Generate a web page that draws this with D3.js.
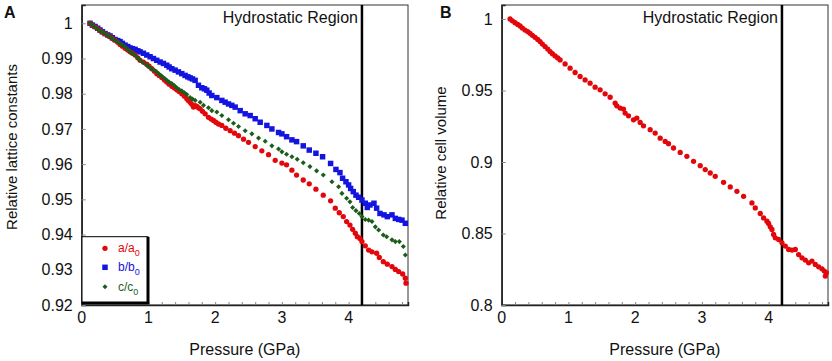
<!DOCTYPE html>
<html>
<head>
<meta charset="utf-8">
<script src="https://cdn.jsdelivr.net/npm/d3@7"></script>
<style>
  body { margin: 0; background: #fff; }
  svg { display: block; font-family: "Liberation Sans", Arial, sans-serif; }
</style>
</head>
<body>
<div id="wrapper"></div>
<script>
// [pressure GPa, ratio]
const aRatio = [[0.125,1.0],[0.16,0.9995],[0.2,0.999],[0.24,0.9985],[0.275,0.9979],[0.31,0.9975],[0.35,0.997],[0.39,0.9966],[0.425,0.9962],[0.46,0.9957],[0.5,0.9952],[0.54,0.9946],[0.575,0.994],[0.61,0.9935],[0.65,0.9929],[0.69,0.9924],[0.725,0.9919],[0.76,0.9915],[0.8,0.991],[0.84,0.9902],[0.875,0.9895],[0.925,0.989],[0.975,0.9884],[1.01,0.9878],[1.05,0.9871],[1.09,0.9864],[1.125,0.9857],[1.16,0.9852],[1.2,0.9846],[1.24,0.9839],[1.275,0.9833],[1.31,0.9827],[1.35,0.9821],[1.39,0.9816],[1.425,0.9811],[1.46,0.9806],[1.5,0.98],[1.54,0.9793],[1.575,0.9786],[1.6,0.9781],[1.625,0.9776],[1.65,0.977],[1.675,0.9762],[1.7,0.9766],[1.725,0.9764],[1.75,0.976],[1.775,0.9757],[1.81,0.975],[1.85,0.9743],[1.9,0.9733],[1.94,0.9728],[1.975,0.9724],[2.01,0.9719],[2.05,0.9714],[2.1,0.971],[2.16,0.9702],[2.225,0.9695],[2.29,0.9688],[2.35,0.9681],[2.425,0.9671],[2.5,0.9662],[2.6,0.965],[2.7,0.9638],[2.8,0.9627],[2.9,0.9611],[3.0,0.9603],[3.07,0.9598],[3.15,0.9583],[3.22,0.9569],[3.32,0.9555],[3.41,0.9544],[3.51,0.9529],[3.62,0.9512],[3.73,0.9496],[3.8,0.9475],[3.86,0.9462],[3.92,0.9451],[3.97,0.9437],[4.02,0.9427],[4.06,0.9415],[4.1,0.9404],[4.13,0.9394],[4.17,0.9389],[4.2,0.938],[4.25,0.9368],[4.3,0.9356],[4.35,0.9351],[4.42,0.9347],[4.46,0.9335],[4.52,0.9323],[4.58,0.9316],[4.65,0.9309],[4.7,0.9301],[4.75,0.9295],[4.81,0.9288],[4.85,0.9276],[4.86,0.9262]];

const bRatio = [[0.125,1.0],[0.16,0.9995],[0.2,0.9991],[0.24,0.9986],[0.275,0.9981],[0.31,0.9976],[0.35,0.9971],[0.39,0.9967],[0.425,0.9964],[0.46,0.9959],[0.5,0.9954],[0.54,0.9951],[0.575,0.9948],[0.61,0.9943],[0.65,0.9938],[0.69,0.9934],[0.725,0.993],[0.76,0.9928],[0.8,0.9926],[0.84,0.9922],[0.875,0.9919],[0.925,0.9915],[0.975,0.991],[1.025,0.9905],[1.075,0.99],[1.125,0.9895],[1.175,0.989],[1.225,0.9886],[1.275,0.9881],[1.31,0.9876],[1.35,0.9871],[1.4,0.9867],[1.45,0.9862],[1.5,0.9857],[1.55,0.9852],[1.59,0.9848],[1.625,0.9845],[1.66,0.9842],[1.7,0.9838],[1.75,0.9824],[1.8,0.9817],[1.84,0.9814],[1.875,0.981],[1.91,0.9802],[1.95,0.9795],[2.025,0.9789],[2.1,0.9781],[2.15,0.9776],[2.2,0.9771],[2.25,0.9767],[2.3,0.9762],[2.375,0.9752],[2.45,0.9743],[2.525,0.9738],[2.6,0.9729],[2.675,0.9719],[2.775,0.971],[2.85,0.97],[2.95,0.969],[3.0,0.9686],[3.07,0.9678],[3.15,0.9669],[3.22,0.9664],[3.32,0.9652],[3.41,0.964],[3.51,0.9631],[3.61,0.9621],[3.73,0.9602],[3.81,0.9585],[3.87,0.9576],[3.91,0.956],[3.96,0.955],[4.0,0.9541],[4.03,0.9531],[4.07,0.9522],[4.11,0.9512],[4.15,0.9506],[4.2,0.9498],[4.25,0.9489],[4.28,0.9477],[4.32,0.9484],[4.38,0.9489],[4.42,0.9475],[4.47,0.946],[4.53,0.9456],[4.58,0.9451],[4.65,0.9456],[4.7,0.9446],[4.75,0.9443],[4.8,0.9441],[4.85,0.9432]];

const cRatio = [[0.125,1.0],[0.16,0.9995],[0.2,0.999],[0.24,0.9984],[0.275,0.9979],[0.31,0.9975],[0.35,0.9971],[0.39,0.9966],[0.425,0.9962],[0.46,0.9957],[0.5,0.9952],[0.54,0.9947],[0.575,0.9943],[0.61,0.9938],[0.65,0.9933],[0.69,0.9926],[0.725,0.9919],[0.76,0.9915],[0.8,0.991],[0.84,0.9902],[0.875,0.9895],[0.925,0.9888],[0.975,0.9881],[1.01,0.9876],[1.05,0.9871],[1.09,0.9866],[1.125,0.9862],[1.16,0.9856],[1.2,0.985],[1.24,0.9844],[1.275,0.9838],[1.31,0.9833],[1.35,0.9829],[1.39,0.9823],[1.425,0.9817],[1.46,0.9812],[1.5,0.9808],[1.54,0.9803],[1.575,0.9798],[1.625,0.9789],[1.66,0.9785],[1.7,0.9781],[1.775,0.9776],[1.825,0.9767],[1.9,0.976],[1.95,0.9752],[2.025,0.9748],[2.1,0.9738],[2.2,0.9726],[2.275,0.9716],[2.35,0.9707],[2.45,0.9695],[2.55,0.9686],[2.65,0.9674],[2.75,0.9665],[2.85,0.9652],[2.95,0.9643],[3.0,0.9635],[3.07,0.9628],[3.15,0.9621],[3.23,0.9614],[3.32,0.9604],[3.42,0.9593],[3.52,0.9581],[3.62,0.9569],[3.75,0.955],[3.85,0.9536],[3.9,0.9517],[3.97,0.9503],[4.02,0.9493],[4.06,0.9477],[4.11,0.9468],[4.16,0.946],[4.2,0.9451],[4.25,0.9443],[4.3,0.9441],[4.35,0.9437],[4.4,0.9422],[4.45,0.9413],[4.52,0.9399],[4.57,0.9394],[4.65,0.9385],[4.7,0.938],[4.76,0.938],[4.82,0.9366],[4.85,0.9342]];

const cellVolume = [[0.125,1.0],[0.16,0.9987],[0.2,0.9974],[0.24,0.9962],[0.275,0.9951],[0.31,0.9937],[0.35,0.9923],[0.39,0.9912],[0.425,0.99],[0.46,0.9886],[0.5,0.9872],[0.54,0.9857],[0.575,0.9842],[0.61,0.9825],[0.65,0.9807],[0.69,0.979],[0.725,0.9772],[0.76,0.9757],[0.8,0.9742],[0.84,0.9728],[0.875,0.9714],[0.95,0.9686],[1.025,0.9656],[1.1,0.9626],[1.175,0.9598],[1.25,0.9574],[1.325,0.9551],[1.4,0.9523],[1.475,0.9505],[1.55,0.9477],[1.625,0.9453],[1.7,0.9412],[1.725,0.9393],[1.775,0.9377],[1.825,0.937],[1.85,0.9342],[1.9,0.9323],[1.975,0.9295],[2.025,0.9307],[2.075,0.9277],[2.125,0.9253],[2.225,0.9226],[2.3,0.9202],[2.375,0.9167],[2.45,0.9144],[2.5,0.9128],[2.575,0.9098],[2.675,0.9067],[2.775,0.904],[2.875,0.9005],[2.975,0.8974],[3.05,0.8947],[3.125,0.8923],[3.2,0.89],[3.325,0.8858],[3.425,0.8826],[3.525,0.8795],[3.625,0.876],[3.75,0.8714],[3.8,0.8679],[3.875,0.864],[3.925,0.8609],[3.975,0.8586],[4.0,0.857],[4.025,0.8547],[4.05,0.8528],[4.075,0.8493],[4.1,0.847],[4.15,0.8458],[4.2,0.8435],[4.25,0.8412],[4.3,0.8388],[4.35,0.8384],[4.4,0.8388],[4.45,0.8353],[4.5,0.833],[4.55,0.8314],[4.6,0.8295],[4.65,0.8307],[4.7,0.8284],[4.75,0.8267],[4.8,0.8253],[4.835,0.8237],[4.85,0.8202],[4.865,0.8226]];

const xTicks = [0, 1, 2, 3, 4];
const yTicksA = [0.92, 0.93, 0.94, 0.95, 0.96, 0.97, 0.98, 0.99, 1];
const yTickLabelsA = ["0.92", "0.93", "0.94", "0.95", "0.96", "0.97", "0.98", "0.99", "1"];
const yTicksB = [0.8, 0.85, 0.9, 0.95, 1];
const yTickLabelsB = ["0.8", "0.85", "0.9", "0.95", "1"];
const hydrostaticLimit = 4.2;
const legendNames = ["a/a", "b/b", "c/c"];

const red = "#e3060b", blue = "#1414e0", green = "#1b5e1b";

const svg = d3.select("#wrapper").append("svg")
    .attr("width", 832)
    .attr("height", 361);

function panel(opts) {
    const g = svg.append("g");
    const x = d3.scaleLinear().domain([0, 4.89]).range([opts.left, opts.left + 326.3]);
    const y = d3.scaleLinear().domain(opts.yDomain).range([305, 5]);

    // frame
    g.append("rect")
        .attr("x", x.range()[0]).attr("y", 5)
        .attr("width", x.range()[1] - x.range()[0]).attr("height", 300)
        .attr("fill", "none").attr("stroke", "#333").attr("stroke-width", 1);

    // x axis: minor ticks every 0.2 pointing inward
    const xAxis = d3.axisBottom(x).tickValues(d3.range(0, 4.9, 0.2)).tickSize(-3).tickFormat("");
    g.append("g").attr("transform", "translate(0,305)").call(xAxis)
        .call(s => s.select(".domain").attr("stroke", "#222").attr("stroke-width", 1.5))
        .call(s => s.selectAll(".tick line").attr("stroke", "#888"));
    g.append("g").selectAll("text").data(xTicks).join("text")
        .attr("x", d => x(d)).attr("y", 323)
        .attr("text-anchor", "middle").attr("font-size", 16).attr("fill", "#111")
        .text(d => d);

    // y axis
    const yAxis = d3.axisLeft(y).tickValues(opts.yTicks).tickSize(-4)
        .tickFormat((d, i) => opts.yLabels[i]).tickPadding(9);
    g.append("g").attr("transform", `translate(${x.range()[0]},0)`).call(yAxis)
        .call(s => s.select(".domain").attr("stroke", "#222").attr("stroke-width", 1.5))
        .call(s => s.selectAll(".tick line").attr("stroke", "#888"))
        .call(s => s.selectAll(".tick text").attr("font-size", 16).attr("fill", "#111")
            .attr("font-family", "Liberation Sans, Arial, sans-serif"));

    // hydrostatic limit
    g.append("line")
        .attr("x1", x(hydrostaticLimit)).attr("x2", x(hydrostaticLimit))
        .attr("y1", 5).attr("y2", 305)
        .attr("stroke", "#000").attr("stroke-width", 2.5);
    g.append("text")
        .attr("x", x(hydrostaticLimit) - 4).attr("y", 23)
        .attr("text-anchor", "end").attr("font-size", 16).attr("fill", "#111")
        .text("Hydrostatic Region");

    // titles
    g.append("text")
        .attr("x", (x.range()[0] + x.range()[1]) / 2).attr("y", 355)
        .attr("text-anchor", "middle").attr("font-size", 16).attr("fill", "#111")
        .text("Pressure (GPa)");
    g.append("text")
        .attr("transform", `translate(${opts.titleX},${opts.titleY}) rotate(-90)`)
        .attr("text-anchor", "middle").attr("font-size", 15).attr("fill", "#111")
        .text(opts.yTitle);
    g.append("text")
        .attr("x", opts.labelX).attr("y", 18)
        .attr("font-size", 16).attr("font-weight", "bold").attr("fill", "#111")
        .text(opts.label);

    return {g, x, y};
}

const A = panel({left: 81.7, yDomain: [0.92, 1.0052], yTicks: yTicksA, yLabels: yTickLabelsA,
    yTitle: "Relative lattice constants", titleX: 17, titleY: 147, label: "A", labelX: 4});
const B = panel({left: 501.7, yDomain: [0.8, 1.0098], yTicks: yTicksB, yLabels: yTickLabelsB,
    yTitle: "Relative cell volume", titleX: 446, titleY: 153, label: "B", labelX: 440});

const circle = d3.symbol().type(d3.symbolCircle).size(22)();
const square = d3.symbol().type(d3.symbolSquare).size(30)();
const diamond = d3.symbol().type(d3.symbolSquare).size(13)();

function scatter(p, data, shape, color, rot) {
    p.g.append("g").selectAll("path").data(data).join("path")
        .attr("d", shape)
        .attr("transform", d => `translate(${p.x(d[0])},${p.y(d[1])}) rotate(${rot})`)
        .attr("fill", color);
}

scatter(A, bRatio, square, blue, 0);
scatter(A, aRatio, circle, red, 0);
scatter(A, cRatio, diamond, green, 45);
scatter(B, cellVolume, circle, red, 0);

// legend in panel A
const lg = A.g.append("g");
lg.append("rect").attr("x", 82).attr("y", 236.7).attr("width", 66).attr("height", 66.5)
    .attr("fill", "#fff").attr("stroke", "#000").attr("stroke-width", 1);
lg.append("path").attr("d", `M148,237 V303 H82`).attr("fill", "none")
    .attr("stroke", "#000").attr("stroke-width", 3);
const legendItems = [
    {name: legendNames[0], shape: circle, color: red, rot: 0, y: 248.3},
    {name: legendNames[1], shape: square, color: blue, rot: 0, y: 267.3},
    {name: legendNames[2], shape: diamond, color: green, rot: 45, y: 286.7}
];
legendItems.forEach(it => {
    lg.append("path").attr("d", it.shape)
        .attr("transform", `translate(105,${it.y}) rotate(${it.rot})`)
        .attr("fill", it.color);
    const t = lg.append("text").attr("x", 118).attr("y", it.y + 4)
        .attr("font-size", 12).attr("fill", it.color);
    t.append("tspan").text(it.name);
    t.append("tspan").attr("dy", 4).attr("font-size", 9).text("0");
});
</script>
</body>
</html>
